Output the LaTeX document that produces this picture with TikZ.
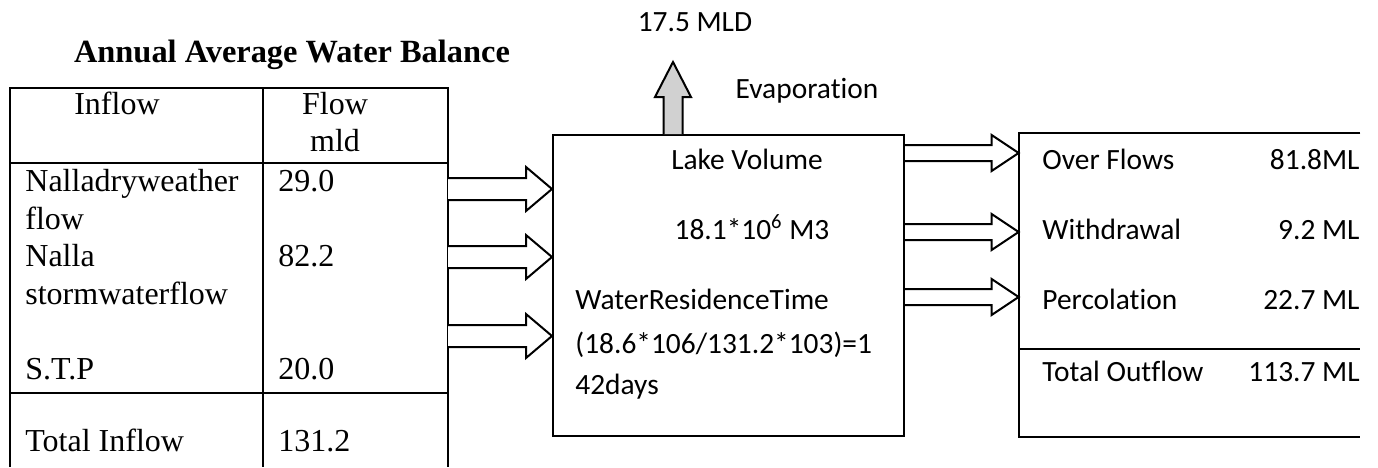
\documentclass[tikz,border=0pt]{standalone}
\usepackage{fontspec}
\setmainfont{Liberation Serif}
\newfontfamily\calibri[Ligatures=NoCommon]{Carlito}
\usepackage{tikz}
\usetikzlibrary{
	calc
}

\tikzset{
	tab/.style={font=\fontsize{16}{19}\selectfont, inner sep=0pt, text height=0.68em, text depth=0pt},
	cal/.style={font=\calibri\fontsize{14.7}{17}\selectfont, inner sep=0pt, text height=0.64em, text depth=0pt},
	fat/.style={draw, line width=1pt, fill=white, line join=miter},
	rule/.style={line width=1pt}
}

% block arrows: base, tip, shaft half width, head half width, head length
\newcommand{\rightflow}[5]{%
	\draw[fat] ($(#1)+(0,-#3)$) -- ($(#2)+(-#5,-#3)$) -- ($(#2)+(-#5,-#4)$) -- (#2)
		-- ($(#2)+(-#5,#4)$) -- ($(#2)+(-#5,#3)$) -- ($(#1)+(0,#3)$);}
\newcommand{\upflow}[5]{%
	\draw[fat,fill=black!18] ($(#1)+(-#3,0)$) -- ($(#2)+(-#3,#5)$) -- ($(#2)+(-#4,#5)$) -- (#2)
		-- ($(#2)+(#4,#5)$) -- ($(#2)+(#3,#5)$) -- ($(#1)+(#3,0)$);}

\begin{document}
\begin{tikzpicture}[x=0.5pt,y=-0.5pt]
	\useasboundingbox (0,0) rectangle (1378,467);

	% inflow table
	\node [tab,font=\fontsize{16.2}{19}\selectfont\bfseries] (title) at (292,56) {Annual Average Water Balance};
	\draw[rule] (10,467) |- (448,88) -- (448,467);
	\draw[rule] (263,88) -- (263,467);
	\draw[rule] (10,163) -- (448,163);
	\draw[rule] (10,393) -- (448,393);

	\node [tab]             (inhd)  at (117,108) {Inflow};
	\node [tab]             (flhd)  at (335,108) {Flow};
	\node [tab]             (mldhd) at (335,145) {mld};
	\node [tab,anchor=west] (dry1)  at (25,185)  {Nalladryweather};
	\node [tab,anchor=west] (dry2)  at (25,223)  {flow};
	\node [tab,anchor=west] (storm1) at (25,260) {Nalla};
	\node [tab,anchor=west] (storm2) at (25,298) {stormwaterflow};
	\node [tab,anchor=west] (stp)   at (25,373)  {S.T.P};
	\node [tab,anchor=west] (totin) at (25,445)  {Total Inflow};
	\node [tab,anchor=west] (vdry)  at (278,185) {29.0};
	\node [tab,anchor=west] (vstorm) at (278,260) {82.2};
	\node [tab,anchor=west] (vstp)  at (278,373) {20.0};
	\node [tab,anchor=west] (vtot)  at (278,445) {131.2};

	% lake
	\node [draw,rule,inner sep=0pt,minimum width=175.5pt,minimum height=150.5pt] (lake) at (728.5,285.5) {};
	\node [cal]             (lkvol)  at (747,163) {Lake Volume};
	\node [cal]             (lkval)  at (752,233) {18.1*10\textsuperscript{6} M3};
	\node [cal,anchor=west] (res1)   at (575,303) {WaterResidenceTime};
	\node [cal,anchor=west] (res2)   at (575,347) {(18.6*106/131.2*103)=1};
	\node [cal,anchor=west] (res3)   at (575,388) {42days};

	% evaporation
	\coordinate (evtip) at (673,62);
	\coordinate (evbase) at (lake.north -| evtip);
	\upflow{evbase}{evtip}{9.5}{18}{35}
	\node [cal] (evval) at (695,25) {17.5 MLD};
	\node [cal] (evlbl) at (807,92) {Evaporation};

	% inflow arrows
	\foreach \y [count=\i] in {189,257,336}{
		\coordinate (in\i) at (448,\y);
		\coordinate (lk\i) at (lake.west |- in\i);
		\rightflow{in\i}{lk\i}{11}{22}{26}
	}

	% outflow box
	\node [inner sep=0pt,minimum width=170.5pt,minimum height=152pt] (outbox) at (1189.5,285) {};
	\draw[rule] (outbox.north east) -- (outbox.north west) -- (outbox.south west) -- (outbox.south east);
	\coordinate (div) at (1019,349);
	\draw[rule] (div) -- (div -| outbox.east);

	% outflow arrows
	\foreach \y [count=\i] in {153,232,297}{
		\coordinate (lo\i) at (lake.east |- 0,\y);
		\coordinate (ob\i) at (outbox.west |- 0,\y);
		\rightflow{lo\i}{ob\i}{8}{18}{27}
	}

	\node [cal,anchor=west] (ovf)  at (1042,163) {Over Flows};
	\node [cal,anchor=west] (wdr)  at (1042,233) {Withdrawal};
	\node [cal,anchor=west] (perc) at (1042,303) {Percolation};
	\node [cal,anchor=west] (totout) at (1042,375) {Total Outflow};
	\node [cal,anchor=east] (vovf)  at (1360,163) {81.8ML};
	\node [cal,anchor=east] (vwdr)  at (1360,233) {9.2 ML};
	\node [cal,anchor=east] (vperc) at (1360,303) {22.7 ML};
	\node [cal,anchor=east] (vtotout) at (1360,375) {113.7 ML};
\end{tikzpicture}
\end{document}
